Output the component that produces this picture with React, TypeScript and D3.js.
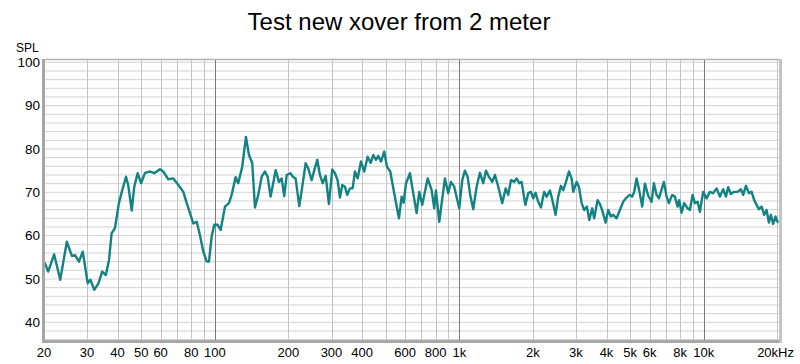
import React from "react";
import * as d3 from "d3";

const freqHz = [
  20.2, 20.8, 22.0, 23.3, 24.8, 26.0, 26.8, 27.8, 28.8, 30.2, 31.0, 32.1, 33.4, 34.6, 35.8, 36.9, 37.8, 39.0,
  40.5, 41.8, 43.3, 44.2, 45.7, 46.8, 48.3, 49.9, 51.8, 54.3, 56.5, 59.6, 61.5, 64.5, 67.6, 70.9, 74.3, 76.7,
  79.1, 81.6, 84.3, 86.9, 89.7, 92.6, 94.6, 97.0, 99.4, 102.7, 105.6, 110, 114.2, 117.1, 121.6, 124.6, 129.4,
  134, 137.9, 142.2, 145.9, 150.5, 155.4, 160.3, 164.4, 169.1, 177.3, 182.9, 187.6, 192.2, 196.7, 203.8, 209.2,
  214, 221.4, 227.8, 235.2, 241, 248.8, 255, 262.4, 269, 276, 284, 292.8, 302.2, 310, 318, 324.8, 332, 340.4,
  348, 356.8, 366, 374.2, 383.8, 396, 408.4, 421.6, 433.8, 444.6, 456, 466, 478, 493, 505.8, 521.8, 541.6,
  566.2, 580.8, 592, 604.8, 628, 647.8, 668.8, 685.6, 705.2, 742, 770.4, 789.6, 802.4, 827.8, 873.2, 900.8,
  924, 953.2, 999, 1028, 1054, 1081, 1108, 1140, 1177, 1214, 1253, 1285, 1321, 1363, 1399, 1443, 1498, 1547,
  1585, 1626, 1677, 1715, 1758, 1798, 1862, 1914, 1963, 2006, 2052, 2102, 2156, 2224, 2276, 2348, 2398, 2476,
  2538, 2604, 2660, 2722, 2808, 2880, 2924, 3018, 3084, 3164, 3242, 3326, 3400, 3496, 3562, 3678, 3758, 3840,
  3966, 4064, 4168, 4260, 4398, 4538, 4680, 4832, 4986, 5094, 5192, 5310, 5442, 5598, 5742, 5924, 6118, 6252,
  6412, 6552, 6676, 6868, 7044, 7198, 7426, 7618, 7814, 7934, 8114, 8314, 8584, 8772, 9000, 9196, 9432, 9638,
  9942, 10266, 10590, 10926, 11282, 11638, 12006, 12316, 12586, 12910, 13318, 13752, 14184, 14494, 14868,
  15292, 15688, 16076, 16444, 16804, 17238, 17664, 18066, 18462, 18814, 19224, 19662, 20036,
];

const splDb = [
  53.6, 51.7, 55.7, 49.8, 58.6, 55.3, 55.5, 54.0, 56.3, 49.0, 49.8, 47.5, 49.0, 51.7, 50.9, 54.4, 60.5, 61.7,
  67.5, 70.5, 73.6, 71.7, 65.8, 71.3, 74.4, 72.1, 74.5, 74.8, 74.4, 75.3, 74.8, 73.0, 73.2, 71.7, 70.1, 67.5,
  65.2, 62.8, 63.2, 60.1, 56.3, 54.0, 54.0, 59.8, 62.5, 62.5, 61.3, 66.7, 67.5, 69.4, 73.5, 72.1, 75.9,
  82.8, 78.6, 76.7, 66.5, 69.4, 73.6, 74.8, 73.6, 69.0, 75.1, 72.4, 73.2, 69.1, 74.0, 74.4, 73.5,
  73.2, 66.8, 71.3, 76.7, 75.5, 72.8, 75.1, 77.5, 74.0, 72.1, 73.8, 67.3, 75.3, 74.4, 72.7, 68.8, 71.7, 71.3,
  69.4, 70.9, 70.9, 74.8, 73.2, 77.1, 74.8, 78.2, 76.8, 78.6, 77.5, 78.4, 77.1, 79.4, 75.9, 74.8, 69.8,
  64.0, 69.0, 67.6, 72.0, 74.4, 69.8, 65.2, 70.1, 67.1, 73.2, 70.5, 66.3, 70.4, 63.2, 73.2, 69.8,
  72.4, 71.3, 66.3, 72.8, 75.0, 73.6, 69.4, 66.1, 71.3, 74.5, 72.1, 75.0, 73.6, 72.4, 74.0, 71.3, 67.5, 70.9,
  69.4, 72.8, 72.4, 73.2, 72.1, 72.4, 67.1, 69.8, 70.1, 68.6, 69.9, 67.8, 66.5, 70.1, 69.0, 70.4, 68.4, 64.8,
  69.0, 71.5, 70.5, 72.1, 74.8, 73.2, 70.1, 72.4, 71.3, 67.5, 65.9, 66.7, 63.6, 66.3, 64.0, 68.2, 67.3, 65.9,
  63.0, 65.9, 64.4, 64.8, 64.0, 65.9, 67.8, 68.8, 69.4, 69.0, 70.1, 73.2, 70.5, 66.7, 72.0, 69.2, 67.8, 72.1,
  69.4, 68.6, 70.1, 72.4, 69.0, 67.5, 69.4, 69.0, 66.7, 68.2, 65.3, 67.5, 66.3, 65.9, 69.4, 67.5, 67.8, 65.5,
  70.1, 68.6, 70.1, 69.8, 70.9, 69.0, 70.7, 69.0, 71.2, 69.6, 70.1, 70.1, 70.7, 69.4, 71.5,
  69.8, 70.1, 68.2, 67.1, 66.1, 66.7, 64.8, 65.9, 63.0, 64.8, 62.7, 64.4, 63.2,
];

const xTickValues = [20, 30, 40, 50, 60, 80, 100, 200, 300, 400, 600, 800, 1000, 2000, 3000, 4000, 5000, 6000, 8000, 10000, 20000];
const xTickLabels = ["20", "30", "40", "50", "60", "80", "100", "200", "300", "400", "600", "800", "1k", "2k", "3k", "4k", "5k", "6k", "8k", "10k", "20kHz"];
const yTickValues = [40, 50, 60, 70, 80, 90, 100];

const title = "Test new xover from 2 meter";
const yAxisTitle = "SPL";

const W = 800;
const H = 364;
const L = 45;
const R = 779;
const T = 60;
const B = 340;
const FONT = "'Liberation Sans', Arial, sans-serif";
const LINE = "#128282";

export default function App() {
  const x = d3.scaleLog().domain([20, 20500]).range([44, 780]);
  const y = d3.scaleLinear().domain([40, 100]).range([322.3, 62.3]);

  const vGrid: { f: number; major: boolean }[] = [];
  for (const dec of [10, 100, 1000, 10000]) {
    for (let m = 1; m <= 9; m++) {
      const f = dec * m;
      if (f >= 20 && f <= 20000) vGrid.push({ f, major: m === 1 });
    }
  }
  const hGrid = d3.range(36, 101, 2);

  const line = d3
    .line<number>()
    .x((_, i) => x(freqHz[i]))
    .y((d) => y(d))
    .curve(d3.curveLinear);

  return (
    <svg width={W} height={H} style={{ position: "absolute", left: 0, top: 0, background: "#fff" }} fontFamily={FONT}>
      <rect x={0} y={0} width={W} height={H} fill="#fff" />
      <text x={399} y={30} textAnchor="middle" fontSize={24} fill="#000">
        {title}
      </text>
      <text x={16} y={52} fontSize={12} fill="#000">
        {yAxisTitle}
      </text>
      <defs>
        <clipPath id="plot">
          <rect x={L} y={T} width={R - L} height={B - T} />
        </clipPath>
      </defs>
      <rect x={L} y={T} width={R - L} height={B - T} fill="#fff" />
      <g clipPath="url(#plot)">
        {hGrid.map((v) => (
          <line key={"h" + v} x1={L} x2={R} y1={y(v)} y2={y(v)} stroke="#d2d2d2" strokeWidth={1} />
        ))}
        {vGrid.map((g) => (
          <line
            key={"v" + g.f}
            x1={Math.round(x(g.f)) + 0.5}
            x2={Math.round(x(g.f)) + 0.5}
            y1={T}
            y2={B}
            stroke={g.major ? "#7a7a7a" : "#c4c4c4"}
            strokeWidth={1}
          />
        ))}
        <path d={line(splDb) || ""} fill="none" stroke={LINE} strokeWidth={2.4} strokeLinejoin="round" strokeLinecap="round" />
      </g>
      <line x1={L} x2={R} y1={T - 0.5} y2={T - 0.5} stroke="#b4b4b4" strokeWidth={1.5} />
      <rect x={42} y={T - 1} width={3} height={B - T + 4} fill="#a6a6a6" />
      <rect x={42} y={B} width={R - 42 + 3} height={3} fill="#a6a6a6" />
      <rect x={R} y={T - 1} width={3} height={B - T + 4} fill="#c4c4c4" />
      {yTickValues.map((v) => (
        <text key={"yt" + v} x={40} y={y(v)} dy="0.35em" textAnchor="end" fontSize={13.5} fill="#000">
          {v}
        </text>
      ))}
      {xTickValues.map((f, i) => (
        <text
          key={"xt" + f}
          x={i === xTickValues.length - 1 ? 794 : x(f)}
          y={357}
          textAnchor={i === xTickValues.length - 1 ? "end" : "middle"}
          fontSize={13}
          fill="#000"
        >
          {xTickLabels[i]}
        </text>
      ))}
    </svg>
  );
}
